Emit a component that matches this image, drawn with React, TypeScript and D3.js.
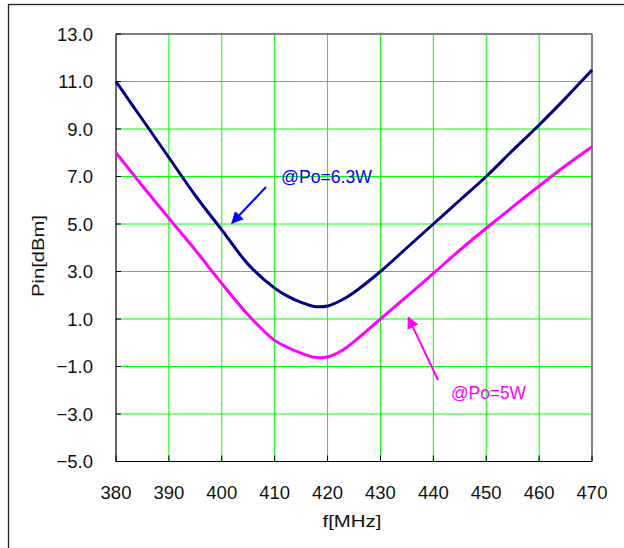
import React from "react";
import * as d3 from "d3";

const freqs = [380, 385, 390, 395, 400, 405, 410, 412.5, 415, 417.5, 420, 422.5, 425, 430, 435, 440, 445, 450, 455, 460, 465, 470];
const pin63W = [11.0, 9.4, 7.8, 6.2, 4.75, 3.3, 2.3, 1.95, 1.7, 1.53, 1.55, 1.78, 2.12, 3.0, 4.0, 5.0, 6.0, 7.0, 8.1, 9.17, 10.3, 11.48];
const pin5W = [8.0, 6.6, 5.24, 3.9, 2.5, 1.17, 0.1, -0.2, -0.44, -0.61, -0.6, -0.36, 0.05, 1.0, 1.95, 2.92, 3.9, 4.82, 5.72, 6.6, 7.45, 8.25];
const xTicks = [380, 390, 400, 410, 420, 430, 440, 450, 460, 470];
const yTicks = [13, 11, 9, 7, 5, 3, 1, -1, -3, -5];
const yTickLabels = ["13.0", "11.0", "9.0", "7.0", "5.0", "3.0", "1.0", "\u22121.0", "\u22123.0", "\u22125.0"];
const label63 = "@Po=6.3W";
const label5 = "@Po=5W";
const xTitle = "f[MHz]";
const yTitle = "Pin[dBm]";

const W = 624;
const H = 548;
const L = 116, R = 592, T = 34, B = 461.5;
const FONT = "'Liberation Sans', Arial, sans-serif";

export default function App() {
  const x = d3.scaleLinear().domain([380, 470]).range([L, R]);
  const y = d3.scaleLinear().domain([-5, 13]).range([B, T]);
  const line = d3
    .line<number>()
    .x((_, i) => x(freqs[i]))
    .y((d) => y(d))
    .curve(d3.curveCatmullRom.alpha(0.5));

  // annotation anchors in data space
  const a1 = { tail: [408.36, 6.56], tip: [401.93, 5.04], text: [411.2, 6.73] };
  const a2 = { tail: [440.88, -1.57], tip: [435.27, 1.07], text: [443.34, -2.37] };

  return (
    <svg
      width={W}
      height={H}
      style={{ position: "absolute", left: 0, top: 0, background: "#fff" }}
      fontFamily={FONT}
    >
      <defs>
        <marker id="ahBlue" viewBox="0 0 10 10" refX="9" refY="5" markerWidth="6" markerHeight="6" orient="auto" markerUnits="strokeWidth">
          <path d="M0,0 L10,5 L0,10 z" fill="#0000ff" />
        </marker>
        <marker id="ahMag" viewBox="0 0 10 10" refX="9" refY="5" markerWidth="6" markerHeight="6" orient="auto" markerUnits="strokeWidth">
          <path d="M0,0 L10,5 L0,10 z" fill="#ff00ff" />
        </marker>
      </defs>
      <rect x={8.5} y={4.5} width={800} height={800} fill="none" stroke="#222" strokeWidth={1.3} />

      {/* grid */}
      {xTicks.slice(1, -1).map((t) => (
        <line key={"gx" + t} x1={x(t)} x2={x(t)} y1={T} y2={B} stroke="#00ff00" strokeWidth={1} />
      ))}
      {yTicks.slice(1, -1).map((t) => (
        <line key={"gy" + t} x1={L} x2={R} y1={y(t)} y2={y(t)} stroke="#00ff00" strokeWidth={1} />
      ))}

      {/* frame */}
      <line x1={L} x2={R} y1={T} y2={T} stroke="#808080" strokeWidth={2} />
      <line x1={R} x2={R} y1={T} y2={B} stroke="#808080" strokeWidth={2} />
      <line x1={L} x2={L} y1={T} y2={B} stroke="#000" strokeWidth={1.2} />
      <line x1={L} x2={R} y1={B} y2={B} stroke="#000" strokeWidth={1.2} />

      {/* ticks */}
      {xTicks.map((t) => (
        <line key={"tx" + t} x1={x(t)} x2={x(t)} y1={B} y2={B - 6} stroke="#000" strokeWidth={1} />
      ))}
      {yTicks.map((t) => (
        <line key={"ty" + t} x1={L} x2={L + 5} y1={y(t)} y2={y(t)} stroke="#000" strokeWidth={1} />
      ))}

      {/* tick labels */}
      {xTicks.map((t) => (
        <text key={"lx" + t} x={x(t)} y={499} textAnchor="middle" fontSize={18.5} fill="#111">
          {t}
        </text>
      ))}
      {yTicks.map((t, i) => (
        <text key={"ly" + t} x={93} y={y(t) + 6.6} textAnchor="end" fontSize={18.5} fill="#111">
          {yTickLabels[i]}
        </text>
      ))}

      {/* axis titles */}
      <text x={352} y={527} textAnchor="middle" fontSize={17} fill="#111" textLength={59} lengthAdjust="spacingAndGlyphs">
        {xTitle}
      </text>
      <text
        transform={`translate(44,256) rotate(-90)`}
        textAnchor="middle"
        fontSize={16.5}
        fill="#111"
        textLength={82}
        lengthAdjust="spacingAndGlyphs"
      >
        {yTitle}
      </text>

      {/* curves */}
      <path d={line(pin5W) || ""} fill="none" stroke="#ff00ff" strokeWidth={3} />
      <path d={line(pin63W) || ""} fill="none" stroke="#000080" strokeWidth={3} />

      {/* annotations */}
      <line
        x1={x(a1.tail[0])}
        y1={y(a1.tail[1])}
        x2={x(a1.tip[0])}
        y2={y(a1.tip[1])}
        stroke="#0000ff"
        strokeWidth={2}
        markerEnd="url(#ahBlue)"
      />
      <text x={x(a1.text[0])} y={y(a1.text[1])} fontSize={18} fill="#0000ff" textLength={91} lengthAdjust="spacingAndGlyphs">
        {label63}
      </text>
      <line
        x1={x(a2.tail[0])}
        y1={y(a2.tail[1])}
        x2={x(a2.tip[0])}
        y2={y(a2.tip[1])}
        stroke="#ff00ff"
        strokeWidth={2}
        markerEnd="url(#ahMag)"
      />
      <text x={x(a2.text[0])} y={y(a2.text[1])} fontSize={18} fill="#ff00ff" textLength={75} lengthAdjust="spacingAndGlyphs">
        {label5}
      </text>
    </svg>
  );
}
